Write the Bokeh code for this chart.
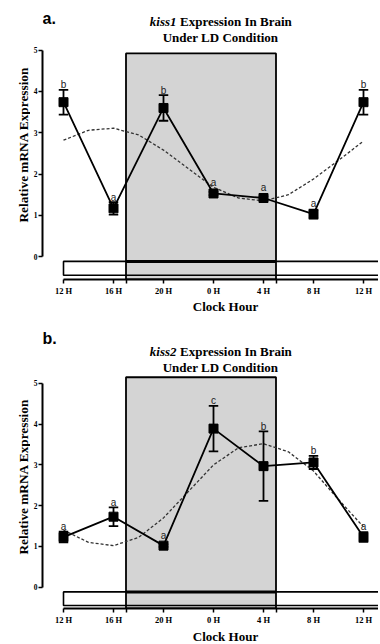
import numpy as np
from bokeh.plotting import figure
from bokeh.models import Range1d, FixedTicker, ColumnDataSource
from bokeh.layouts import column, row
from bokeh.embed import file_html
from bokeh.resources import INLINE
from bokeh.core.properties import value

# ---------------- data ----------------
hours = [0, 4, 8, 12, 16, 20, 24]            # hours after 12:00
tick_labels = ["12 H", "16 H", "20 H", "0 H", "4 H", "8 H", "12 H"]
dark_start, dark_end = 5, 17                 # lights off 17:00, lights on 05:00

kiss1_mean = [3.74, 1.17, 3.60, 1.53, 1.42, 1.03, 3.74]
kiss1_err = [0.30, 0.15, 0.31, 0.04, 0.04, 0.11, 0.30]
kiss1_letters = ["b", "a", "b", "a", "a", "a", "b"]

kiss2_mean = [1.23, 1.73, 1.02, 3.89, 2.97, 3.06, 1.23]
kiss2_err = [0.13, 0.23, 0.03, 0.56, 0.85, 0.16, 0.12]
kiss2_letters = ["a", "a", "a", "c", "b", "b", "a"]

fit_hours = [0, 2, 4, 6, 8, 10, 12, 14, 16, 18, 20, 22, 24]
kiss1_fit = [2.82, 3.06, 3.11, 2.95, 2.58, 2.13, 1.68, 1.42, 1.35, 1.50, 1.88, 2.33, 2.80]
kiss2_fit = [1.40, 1.10, 1.02, 1.22, 1.70, 2.35, 3.00, 3.42, 3.52, 3.32, 2.85, 2.15, 1.48]

SERIF = "Liberation Serif"
SANS = "Liberation Sans"
W = 378


def X(px):
    return (px - 63) * 0.08


def blank(width, height, top, left=0):
    p = figure(width=width, height=height, output_backend="svg", toolbar_location=None,
               x_range=Range1d(left, left + width), y_range=Range1d(top + height, top),
               x_axis_type=None, y_axis_type=None, min_border=0)
    p.outline_line_color = None
    p.xgrid.visible = False
    p.ygrid.visible = False
    return p


def make_panel(letter, gene, mean, err, letters, fit, top, frame_bot, height,
               y0px, ppu, box_top_px, letter_base, t1_base, t2_base):
    def Y(py):
        return (y0px - py) / ppu

    p = figure(width=W - 30, height=height, output_backend="svg", toolbar_location=None,
               x_range=Range1d(X(42), X(W)), y_range=Range1d(Y(frame_bot), Y(top)),
               min_border_left=12, min_border_right=0, min_border_top=0,
               min_border_bottom=top + height - frame_bot)
    p.outline_line_color = None
    p.xgrid.visible = False
    p.ygrid.visible = False

    # axes
    p.xaxis.ticker = FixedTicker(ticks=hours, minor_ticks=[dark_start, dark_end])
    p.xaxis.major_label_overrides = {h: t for h, t in zip(hours, tick_labels)}
    p.xaxis.bounds = (0, X(W))
    p.yaxis.ticker = FixedTicker(ticks=[0, 1, 2, 3, 4, 5], minor_ticks=[])
    p.yaxis.bounds = (0, 5)
    for ax in (p.xaxis, p.yaxis):
        ax.axis_line_width = 2
        ax.axis_line_color = "black"
        ax.major_tick_line_width = 1.5
        ax.major_tick_line_color = "black"
        ax.major_tick_in = 0
        ax.major_tick_out = 4
        ax.major_label_text_font = SERIF
        ax.major_label_text_font_style = "bold"
        ax.major_label_text_color = "black"
        ax.major_label_standoff = 2
    p.xaxis.minor_tick_in = 0
    p.xaxis.minor_tick_out = 4
    p.xaxis.minor_tick_line_width = 1.5
    p.xaxis.minor_tick_line_color = "black"
    p.xaxis.major_label_text_font_size = "8.5px"
    p.yaxis.major_label_text_font_size = "7.5px"
    p.yaxis.major_label_standoff = 1

    ybot = Y(frame_bot)
    bar_top, bar_bot = -0.115, -0.45
    # light parts of LD bar
    p.quad(left=[0, dark_end], right=[dark_start, 30], bottom=bar_bot, top=bar_top,
           fill_color="white", line_color=None)
    # dark period shading
    p.quad(left=dark_start, right=dark_end, bottom=ybot, top=Y(box_top_px),
           fill_color="#d4d4d4", line_color="black", line_width=1.8)
    # LD bar outline
    p.quad(left=0, right=30, bottom=bar_bot, top=bar_top,
           fill_color=None, line_color="black", line_width=1.6)
    p.segment(x0=dark_start, y0=bar_top, x1=dark_end, y1=bar_top,
              line_color="black", line_width=3)

    # fitted cosine (dotted)
    p.line(fit_hours, fit, line_color="#333333", line_width=1.3, line_dash="3 2")

    m = np.array(mean)
    e = np.array(err)
    x = np.array(hours, dtype=float)
    src = ColumnDataSource(dict(x=x, m=m, lo=m - e, hi=m + e,
                                cl=x - 0.38, cr=x + 0.38,
                                lab=letters, ly=np.maximum(m + e, m + 0.135)))
    p.segment(x0="x", y0="lo", x1="x", y1="hi", source=src, line_color="black", line_width=1.8)
    p.segment(x0="cl", y0="hi", x1="cr", y1="hi", source=src, line_color="black", line_width=1.8)
    p.segment(x0="cl", y0="lo", x1="cr", y1="lo", source=src, line_color="black", line_width=1.8)
    p.line("x", "m", source=src, line_color="black", line_width=1.8)
    p.scatter("x", "m", source=src, marker="square", size=9,
              fill_color="black", line_color="black")
    p.text("x", "ly", text="lab", source=src, text_align="center", text_baseline="alphabetic",
           y_offset=-5, text_font=value(SANS), text_font_size="10px", text_color="#222222")

    # panel letter and two-line title (inside the frame area above the data)
    p.text(x=[X(42)], y=[Y(letter_base)], text=[letter], text_font=value(SANS),
           text_font_style="bold", text_font_size="16px", text_align="left",
           text_baseline="alphabetic", text_color="black")
    p.text(x=[X(176)], y=[Y(t1_base)], text=[gene], text_font=value(SERIF),
           text_font_style="bold italic", text_font_size="13px", text_align="right",
           text_baseline="alphabetic", text_color="black")
    p.text(x=[X(179.5)], y=[Y(t1_base)], text=["Expression In Brain"], text_font=value(SERIF),
           text_font_style="bold", text_font_size="13px", text_align="left",
           text_baseline="alphabetic", text_color="black")
    p.text(x=[X(220)], y=[Y(t2_base)], text=["Under LD Condition"], text_font=value(SERIF),
           text_font_style="bold", text_font_size="13px", text_align="center",
           text_baseline="alphabetic", text_color="black")

    # y-axis title in a narrow strip on the left
    yl = blank(30, height, top)
    yl.text(x=[23], y=[y0px - 2.5 * ppu], text=["Relative mRNA Expression"],
            text_font=value(SERIF), text_font_style="bold", text_font_size="13.3px",
            text_align="center", text_baseline="middle", angle=np.pi / 2, text_color="black")
    return row(yl, p, spacing=0)


def footer(top, height, mid):
    f = blank(W, height, top)
    f.text(x=[225], y=[mid], text=["Clock Hour"], text_font=value(SERIF),
           text_font_style="bold", text_font_size="13px", text_align="center",
           text_baseline="middle", text_color="black")
    return f


r1 = make_panel("a.", "kiss1", kiss1_mean, kiss1_err, kiss1_letters, kiss1_fit,
                top=0, frame_bot=281, height=298, y0px=258, ppu=41.6, box_top_px=53.3,
                letter_base=18, t1_base=21, t2_base=37)
f1 = footer(298, 24, 306)
r2 = make_panel("b.", "kiss2", kiss2_mean, kiss2_err, kiss2_letters, kiss2_fit,
                top=322, frame_bot=611, height=305, y0px=589.5, ppu=41.2, box_top_px=377.3,
                letter_base=338, t1_base=351.5, t2_base=367.5)
f2 = footer(627, 17, 635.5)

layout = column(r1, f1, r2, f2, spacing=0)
open("out.html", "w").write(file_html(layout, INLINE))
